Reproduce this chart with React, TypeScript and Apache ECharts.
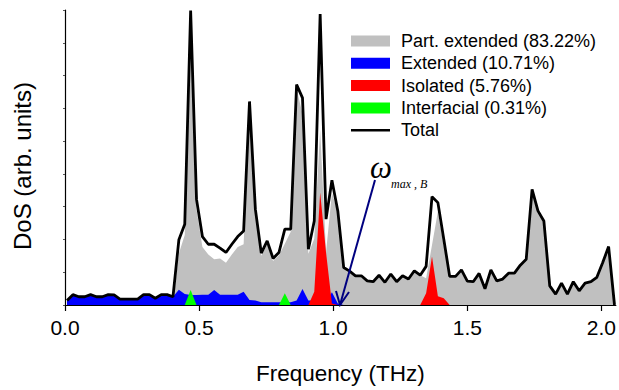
import React, { useEffect, useRef } from 'react';
import * as echarts from 'echarts';

// Frequency grid (THz): first bin and bin width
const F0 = 0.0075;
const STEP = 0.02195;

// DoS values (arb. units, axis top = 100)
const total = [
  1.5, 3.5, 2.8, 2.8, 3.5, 2.8, 2.8, 3.5, 3.4, 2.0, 2.0, 2.0, 2.0, 3.5, 3.5, 2.3, 3.5, 3.5, 2.8,
  22.1, 27.4, 99.8, 35.8, 23.2, 20.6, 20.6, 19.3, 17.8, 20.6, 23.2, 25.1, 69.0, 32.4, 17.6, 21.7,
  15.8, 17.8, 25.7, 25.7, 74.7, 70.2, 18.9, 28.5, 98.6, 29.1, 42.3, 31.9, 12.7, 11.5, 9.9, 9.9,
  8.2, 7.9, 10.1, 7.7, 10.5, 7.9, 9.9, 8.8, 11.6, 10.1, 13.1, 36.7, 34.7, 22.3, 9.7, 9.7, 11.9,
  8.1, 7.9, 10.7, 5.5, 11.9, 8.2, 8.8, 10.8, 10.8, 13.5, 15.5, 39.2, 31.9, 28.5, 6.5, 3.7, 7.4,
  3.7, 7.9, 4.8, 7.4, 7.9, 9.4, 14.4, 19.8, 0,
];

const partExtended = [
  0, 0, 0, 0, 0, 0, 0, 0, 0, 0, 0, 0, 0, 0, 0, 0, 0, 0, 0,
  17.5, 23.7, 91.3, 32.4, 19.7, 17.1, 15.5, 15.8, 14.3, 17.1, 19.7, 20.6, 67.3, 30.9, 16.7, 20.8,
  14.9, 16.9, 20.8, 24.8, 73.2, 64.8, 17.4, 22.5, 59.5, 18.0, 38.0, 31.4, 12.7, 11.5, 9.9, 9.9,
  8.2, 7.9, 10.1, 7.7, 10.5, 7.9, 9.9, 8.8, 11.6, 10.1, 9.1, 20.3, 31.7, 20.0, 9.7, 9.7, 11.9,
  8.1, 7.9, 10.7, 5.5, 11.9, 8.2, 8.8, 10.8, 10.8, 13.5, 15.5, 39.2, 31.9, 28.5, 6.5, 3.7, 7.4,
  3.7, 7.9, 4.8, 7.4, 7.9, 9.4, 14.4, 19.8, 0,
];

const extended = [
  1.5, 3.5, 2.8, 2.8, 3.5, 2.8, 2.8, 3.5, 3.4, 2.0, 2.0, 2.0, 2.0, 3.5, 3.5, 2.3, 3.5, 3.5, 2.8,
  5.2, 3.7, 3.4, 3.4, 3.5, 3.5, 5.1, 3.5, 3.5, 3.5, 3.5, 4.5, 1.7, 1.5, 0.9, 0.9,
  0.9, 0.9, 0.9, 0.9, 1.5, 5.4, 1.5, 1.5, 1.0, 1.0, 4.3, 0.5, 0, 0, 0, 0,
  0, 0, 0, 0, 0, 0, 0, 0, 0, 0, 0, 0, 0, 0, 0, 0, 0,
  0, 0, 0, 0, 0, 0, 0, 0, 0, 0, 0, 0, 0, 0, 0, 0, 0, 0, 0,
  0, 0, 0, 0, 0, 0, 0, 0, 0,
];

const isolated = [
  0, 0, 0, 0, 0, 0, 0, 0, 0, 0, 0, 0, 0, 0, 0, 0, 0, 0, 0,
  0, 0, 0, 0, 0, 0, 0, 0, 0, 0, 0, 0, 0, 0, 0, 0,
  0, 0, 0, 0, 0, 0, 0, 4.5, 38.1, 17.8, 0.5, 0, 0, 0, 0, 0,
  0, 0, 0, 0, 0, 0, 0, 0, 0, 0, 4.0, 16.4, 3.0, 2.3, 0, 0, 0,
  0, 0, 0, 0, 0, 0, 0, 0, 0, 0, 0, 0, 0, 0, 0, 0, 0, 0, 0,
  0, 0, 0, 0, 0, 0, 0, 0, 0,
];

const interfacial = [
  0, 0, 0, 0, 0, 0, 0, 0, 0, 0, 0, 0, 0, 0, 0, 0, 0, 0, 0,
  0, 0, 5.1, 0, 0, 0, 0, 0, 0, 0, 0, 0, 0, 0, 0, 0,
  0, 0, 4.0, 0, 0, 0, 0, 0, 0, 0, 0, 0, 0, 0, 0, 0,
  0, 0, 0, 0, 0, 0, 0, 0, 0, 0, 0, 0, 0, 0, 0, 0, 0,
  0, 0, 0, 0, 0, 0, 0, 0, 0, 0, 0, 0, 0, 0, 0, 0, 0, 0, 0,
  0, 0, 0, 0, 0, 0, 0, 0, 0,
];

const seriesNames = [
  'Part. extended (83.22%)',
  'Extended (10.71%)',
  'Isolated (5.76%)',
  'Interfacial (0.31%)',
  'Total',
];
const seriesColors = ['#c0c0c0', '#0000ff', '#ff0000', '#00ff00', '#000000'];

const X_MIN = 0;
const X_MAX = 2.054;
const X_INTERVAL = 0.5;
const Y_MAX = 100;

const SANS = '"Liberation Sans", Arial, sans-serif';
const SERIF = '"Liberation Serif", "Times New Roman", serif';

export default function App() {
  const ref = useRef<HTMLDivElement>(null);

  useEffect(() => {
    const chart = echarts.init(ref.current!, null, { renderer: 'svg' });
    const freq = total.map((_, i) => +(F0 + i * STEP).toFixed(5));
    const pairs = (arr: number[]) => arr.map((v, i) => [freq[i], v]);
    const areaData = [partExtended, extended, isolated, interfacial];

    const areaSeries = areaData.map((arr, k) => ({
      name: seriesNames[k],
      type: 'line',
      data: pairs(arr),
      symbol: 'none',
      color: seriesColors[k],
      lineStyle: { width: 0, color: seriesColors[k] },
      itemStyle: { color: seriesColors[k] },
      areaStyle: { color: seriesColors[k], opacity: 1 },
      silent: true,
    }));

    chart.setOption({
      animation: false,
      backgroundColor: '#ffffff',
      grid: { left: 65, top: 10, right: 0, bottom: 84, containLabel: false },
      legend: {
        orient: 'vertical',
        left: 351,
        top: 32,
        padding: 0,
        itemWidth: 39,
        itemHeight: 11,
        itemGap: 4.3,
        textStyle: { fontSize: 18, color: '#000', fontFamily: SANS, padding: [0, 0, 0, 6] },
        data: [
          { name: seriesNames[0], icon: 'rect' },
          { name: seriesNames[1], icon: 'rect' },
          { name: seriesNames[2], icon: 'rect' },
          { name: seriesNames[3], icon: 'rect' },
          { name: seriesNames[4], icon: 'path://M0,0 L42,0 L42,2.8 L0,2.8 Z' },
        ],
      },
      xAxis: {
        type: 'value',
        min: X_MIN,
        max: X_MAX,
        interval: X_INTERVAL,
        splitLine: { show: false },
        axisLine: { show: true, lineStyle: { color: '#000', width: 1.2 } },
        axisTick: { show: true, length: 6, lineStyle: { color: '#000', width: 1.2 } },
        axisLabel: {
          color: '#000',
          fontSize: 21,
          fontFamily: SANS,
          margin: 12,
          showMaxLabel: false,
          formatter: (v: number) =>
            Math.abs(v / X_INTERVAL - Math.round(v / X_INTERVAL)) < 1e-6 ? v.toFixed(1) : '',
        },
        name: 'Frequency (THz)',
        nameLocation: 'middle',
        nameGap: 57,
        nameTextStyle: { color: '#000', fontSize: 22.5, fontFamily: SANS },
      },
      yAxis: {
        type: 'value',
        min: 0,
        max: Y_MAX,
        interval: Y_MAX / 9,
        splitLine: { show: false },
        axisLine: { show: true, lineStyle: { color: '#000', width: 1.2 } },
        axisTick: { show: true, length: 2, lineStyle: { color: '#555', width: 1 } },
        axisLabel: { show: false },
      },
      series: [
        ...areaSeries,
        {
          name: seriesNames[4],
          type: 'line',
          data: pairs(total),
          symbol: 'none',
          color: '#000',
          lineStyle: { width: 2.8, color: '#000' },
          itemStyle: { color: '#000' },
          z: 5,
        },
      ],
      graphic: [
        {
          type: 'text',
          x: 22.5,
          y: 166,
          rotation: Math.PI / 2,
          style: {
            text: 'DoS (arb. units)',
            font: `24px ${SANS}`,
            fill: '#000',
            textAlign: 'center',
            textVerticalAlign: 'middle',
          },
        },
        {
          type: 'line',
          shape: { x1: 375, y1: 180, x2: 340, y2: 305 },
          style: { stroke: '#000080', lineWidth: 2 },
          z: 10,
        },
        {
          type: 'polyline',
          shape: { points: [[336, 291], [340, 305], [349, 292]] },
          style: { stroke: '#000080', lineWidth: 2, fill: null },
          z: 10,
        },
        {
          type: 'text',
          x: 370,
          y: 167,
          style: {
            text: 'ω',
            font: `italic 31px ${SERIF}`,
            fill: '#000',
            textAlign: 'left',
            textVerticalAlign: 'middle',
          },
          z: 10,
        },
        {
          type: 'text',
          x: 391,
          y: 184,
          style: {
            text: 'max , B',
            font: `italic 12px ${SERIF}`,
            fill: '#000',
            textAlign: 'left',
            textVerticalAlign: 'middle',
          },
          z: 10,
        },
      ],
    });

    return () => chart.dispose();
  }, []);

  return (
    <div
      ref={ref}
      style={{ position: 'absolute', left: 0, top: 0, width: 619, height: 390, background: '#fff' }}
    />
  );
}
